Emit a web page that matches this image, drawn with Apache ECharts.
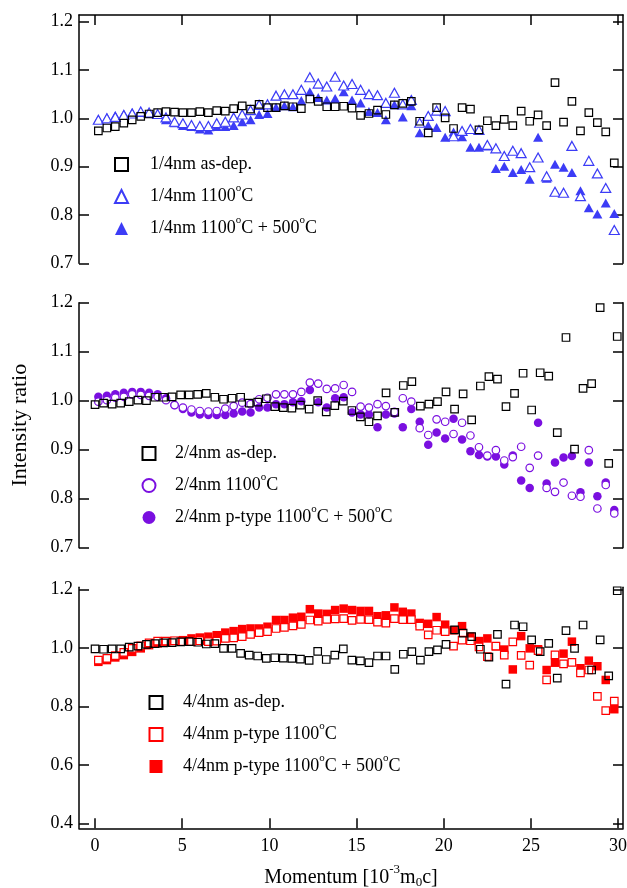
<!DOCTYPE html>
<html>
<head>
<meta charset="UTF-8">
<title>Intensity ratio</title>
<script src="https://cdn.jsdelivr.net/npm/echarts@6/dist/echarts.min.js"></script>
</head>
<body style="margin:0">
<div id="main" style="width:627px;height:888px;"></div>
<script type="text/javascript">
// momentum grids [10^-3 m0c]
var momentumA = [
  0.19, 0.68, 1.16, 1.65, 2.13, 2.62, 3.10, 3.59, 4.07, 4.56,
  5.04, 5.53, 6.01, 6.50, 6.98, 7.47, 7.95, 8.44, 8.92, 9.41,
  9.89, 10.38, 10.86, 11.35, 11.83, 12.32, 12.80, 13.29, 13.77, 14.26,
  14.74, 15.23, 15.71, 16.20, 16.68, 17.17, 17.65, 18.14, 18.62, 19.11,
  19.59, 20.08, 20.56, 21.05, 21.53, 22.02, 22.50, 22.99, 23.47, 23.96,
  24.44, 24.93, 25.41, 25.90, 26.38, 26.87, 27.35, 27.84, 28.32, 28.81,
  29.29, 29.78];
var momentumB = [
  0.00, 0.49, 0.98, 1.47, 1.96, 2.46, 2.95, 3.44, 3.93, 4.42,
  4.91, 5.40, 5.89, 6.38, 6.87, 7.37, 7.86, 8.35, 8.84, 9.33,
  9.82, 10.31, 10.80, 11.29, 11.78, 12.28, 12.77, 13.26, 13.75, 14.24,
  14.73, 15.22, 15.71, 16.20, 16.69, 17.19, 17.68, 18.17, 18.66, 19.15,
  19.64, 20.13, 20.62, 21.11, 21.60, 22.10, 22.59, 23.08, 23.57, 24.06,
  24.55, 25.04, 25.53, 26.02, 26.51, 27.01, 27.50, 27.99, 28.48, 28.97,
  29.46, 29.95];

// panel 1: 1/4nm
var p1AsDep = [
  0.974, 0.980, 0.983, 0.990, 0.997, 1.004, 1.009, 1.012, 1.014, 1.013,
  1.012, 1.012, 1.014, 1.012, 1.016, 1.015, 1.020, 1.026, 1.019, 1.029,
  1.022, 1.022, 1.026, 1.024, 1.020, 1.040, 1.035, 1.024, 1.024, 1.025,
  1.021, 1.006, 1.010, 1.017, 1.008, 1.028, 1.031, 1.035, 0.994, 0.970,
  1.022, 1.001, 0.979, 1.022, 1.019, 0.976, 0.995, 0.985, 0.998, 0.985,
  1.015, 0.994, 1.007, 0.985, 1.074, 0.992, 1.035, 0.974, 1.012, 0.991,
  0.972, 0.908];
var p1Ann = [
  0.997, 1.000, 1.003, 1.007, 1.010, 1.014, 1.012, 1.009, 1.002, 0.993,
  0.990, 0.986, 0.984, 0.984, 0.990, 0.993, 1.002, 1.008, 1.017, 1.028,
  1.029, 1.047, 1.050, 1.050, 1.059, 1.085, 1.072, 1.066, 1.086, 1.068,
  1.071, 1.059, 1.050, 1.048, 1.032, 1.053, 1.029, 1.038, 0.991, 1.005,
  1.016, 1.015, 0.963, 0.974, 0.978, 0.976, 0.945, 0.938, 0.922, 0.933,
  0.928, 0.899, 0.919, 0.880, 0.848, 0.846, 0.943, 0.839, 0.912, 0.886,
  0.856, 0.769];
var p1Ann500 = [
  0.998, 1.002, 1.006, 1.009, 1.012, 1.012, 1.010, 1.008, 0.997, 0.991,
  0.985, 0.983, 0.978, 0.976, 0.983, 0.983, 0.985, 0.993, 0.997, 1.008,
  1.010, 1.023, 1.026, 1.024, 1.037, 1.055, 1.043, 1.038, 1.041, 1.055,
  1.038, 1.032, 1.014, 1.012, 0.997, 1.028, 1.003, 1.026, 0.970, 0.985,
  0.981, 0.961, 0.972, 0.962, 0.940, 0.940, 0.943, 0.896, 0.901, 0.888,
  0.894, 0.874, 0.961, 0.876, 0.905, 0.899, 0.888, 0.850, 0.815, 0.802,
  0.825, 0.803];

// panel 2: 2/4nm
var p2AsDep = [
  0.992, 0.995, 0.993, 0.995, 0.998, 1.001, 1.000, 1.007, 1.007, 1.008,
  1.012, 1.012, 1.013, 1.015, 1.007, 1.003, 1.005, 1.007, 0.995, 0.997,
  1.004, 0.988, 0.986, 0.985, 0.991, 0.983, 1.000, 0.977, 0.990, 0.999,
  0.980, 0.967, 0.957, 0.969, 1.016, 0.976, 1.031, 1.039, 0.989, 0.993,
  0.998, 1.018, 0.983, 1.014, 0.961, 1.030, 1.049, 1.044, 0.988, 1.015,
  1.056, 0.981, 1.057, 1.050, 0.935, 1.129, 0.901, 1.025, 1.035, 1.190,
  0.872, 1.131];
var p2Ann = [
  0.998, 1.001, 1.006, 1.008, 1.013, 1.012, 1.010, 1.008, 1.001, 0.991,
  0.986, 0.982, 0.979, 0.978, 0.979, 0.984, 0.989, 0.996, 0.993, 1.003,
  1.006, 1.013, 1.013, 1.013, 1.018, 1.037, 1.035, 1.024, 1.025, 1.032,
  1.018, 0.988, 0.986, 0.993, 0.989, 0.977, 1.005, 0.998, 0.944, 0.930,
  0.962, 0.957, 0.932, 0.955, 0.929, 0.905, 0.888, 0.899, 0.878, 0.885,
  0.906, 0.863, 0.888, 0.822, 0.814, 0.833, 0.806, 0.804, 0.899, 0.780,
  0.828, 0.770];
var p2Ann500 = [
  1.008, 1.010, 1.013, 1.016, 1.018, 1.018, 1.016, 1.013, 1.005, 0.991,
  0.983, 0.976, 0.972, 0.971, 0.971, 0.971, 0.974, 0.978, 0.976, 0.986,
  0.986, 0.993, 0.993, 0.997, 0.999, 1.022, 0.997, 0.986, 1.005, 1.007,
  0.976, 0.972, 0.972, 0.946, 0.972, 0.974, 0.946, 0.983, 0.957, 0.910,
  0.935, 0.923, 0.963, 0.921, 0.897, 0.889, 0.886, 0.886, 0.870, 0.888,
  0.837, 0.822, 0.955, 0.831, 0.874, 0.884, 0.887, 0.813, 0.874, 0.805,
  0.833, 0.777];

// panel 3: 4/4nm
var p3AsDep = [
  0.996, 0.995, 0.996, 0.996, 1.002, 1.006, 1.012, 1.014, 1.017, 1.018,
  1.020, 1.021, 1.019, 1.013, 1.014, 0.998, 0.998, 0.981, 0.975, 0.972,
  0.964, 0.966, 0.965, 0.964, 0.961, 0.957, 0.988, 0.960, 0.975, 0.996,
  0.958, 0.955, 0.949, 0.972, 0.972, 0.926, 0.978, 0.987, 0.958, 0.987,
  0.993, 1.012, 1.061, 1.050, 1.038, 0.995, 0.968, 1.046, 0.876, 1.078,
  1.072, 1.027, 0.987, 1.015, 0.896, 1.059, 0.998, 1.078, 0.924, 1.027,
  0.904, 1.195];
var p3Ann = [
  0.958, 0.964, 0.973, 0.984, 0.998, 1.007, 1.017, 1.023, 1.023, 1.024,
  1.021, 1.021, 1.024, 1.021, 1.023, 1.032, 1.034, 1.038, 1.046, 1.052,
  1.055, 1.066, 1.070, 1.075, 1.080, 1.095, 1.091, 1.097, 1.099, 1.100,
  1.094, 1.097, 1.096, 1.088, 1.084, 1.100, 1.096, 1.096, 1.074, 1.044,
  1.060, 1.055, 1.006, 1.026, 1.024, 1.003, 0.970, 1.006, 0.975, 1.020,
  0.974, 0.941, 0.990, 0.890, 0.976, 0.945, 0.950, 0.914, 0.924, 0.834,
  0.785, 0.818];
var p3Ann500 = [
  0.952, 0.958, 0.967, 0.975, 0.986, 0.998, 1.009, 1.015, 1.021, 1.023,
  1.026, 1.032, 1.035, 1.038, 1.043, 1.052, 1.057, 1.064, 1.066, 1.066,
  1.072, 1.095, 1.095, 1.103, 1.106, 1.132, 1.117, 1.116, 1.129, 1.134,
  1.129, 1.126, 1.126, 1.108, 1.111, 1.138, 1.123, 1.117, 1.085, 1.082,
  1.105, 1.079, 1.060, 1.074, 1.038, 1.023, 1.032, 1.005, 0.994, 0.926,
  1.040, 0.998, 0.995, 0.924, 0.949, 0.980, 1.021, 0.930, 0.956, 0.937,
  0.890, 0.790];

var xTicks = [0, 5, 10, 15, 20, 25, 30];
var yTicksUpper = [0.7, 0.8, 0.9, 1.0, 1.1, 1.2];
var yTicksLower = [0.4, 0.6, 0.8, 1.0, 1.2];

var names1 = ['1/4nm as-dep.', '1/4nm 1100°C', '1/4nm 1100°C + 500°C'];
var names2 = ['2/4nm as-dep.', '2/4nm 1100°C', '2/4nm p-type 1100°C + 500°C'];
var names3 = ['4/4nm as-dep.', '4/4nm p-type 1100°C', '4/4nm p-type 1100°C + 500°C'];

var myChart = echarts.init(document.getElementById('main'));
var serif = 'Liberation Serif';
var axisColor = '#000';
var blue = '#3c3cf6';
var purple = '#7a0fe0';
var red = '#ff0000';

function pts(xs, ys) {
  return xs.map(function (x, i) { return [x, ys[i]]; });
}

function scatter(name, panel, symbol, size, xs, ys, color, filled, fill) {
  return {
    name: name,
    type: 'scatter',
    xAxisIndex: panel,
    yAxisIndex: panel * 2,
    symbol: symbol,
    symbolSize: size,
    symbolKeepAspect: true,
    silent: true,
    emphasis: { disabled: true },
    itemStyle: filled
      ? { color: color, borderWidth: 0, opacity: 1 }
      : { color: fill, borderColor: color, borderWidth: 1.2, opacity: 1 },
    data: pts(xs, ys)
  };
}

function supName(n) {
  return n.split('°').map(function (p) { return '{t|' + p + '}'; }).join('{s|o}');
}

// legend icon is 13px; the gap token pushes the text to the right,
// the trailing empty superscript keeps every row the same height
function legendAt(names, left, top, gap) {
  return {
    data: names,
    orient: 'vertical',
    left: left,
    top: top,
    padding: 0,
    itemWidth: 13,
    itemHeight: 13,
    itemGap: 5,
    selectedMode: false,
    formatter: function (n) { return '{g| }' + supName(n) + '{s| }'; },
    textStyle: {
      rich: {
        g: { width: gap, fontSize: 18, lineHeight: 27 },
        t: { fontFamily: serif, fontSize: 18, lineHeight: 27, color: '#000' },
        s: { fontFamily: serif, fontSize: 11, lineHeight: 11, padding: [0, 0, 16, 0], color: '#000' }
      }
    }
  };
}

var lineSt = { color: axisColor, width: 1.5 };

function xAxisFor(panel, pos, showLabels) {
  var ax = {
    type: 'value',
    gridIndex: panel,
    position: pos,
    min: -0.92,
    max: 30.28,
    axisLine: { show: true, onZero: false, lineStyle: lineSt },
    axisTick: { show: true, inside: true, length: 10, customValues: xTicks, lineStyle: lineSt },
    axisLabel: { show: showLabels, customValues: xTicks, margin: 9, fontFamily: serif, fontSize: 18, color: '#000' },
    splitLine: { show: false }
  };
  if (panel === 1) ax.show = false;
  return ax;
}

function yAxisFor(panel, pos, min, max, ticks, showLabels) {
  return {
    type: 'value',
    gridIndex: panel,
    position: pos,
    min: min,
    max: max,
    axisLine: { show: true, onZero: false, lineStyle: lineSt },
    axisTick: { show: true, inside: true, length: 10, customValues: ticks, lineStyle: lineSt },
    axisLabel: {
      show: showLabels, customValues: ticks, margin: 6,
      fontFamily: serif, fontSize: 18, color: '#000',
      formatter: function (v) { return v.toFixed(1); }
    },
    splitLine: { show: false }
  };
}

var yAxes = [
  yAxisFor(0, 'left', 0.7, 1.2139, yTicksUpper, true),
  yAxisFor(0, 'right', 0.7, 1.2139, yTicksUpper, false),
  yAxisFor(1, 'left', 0.7, 1.2, yTicksUpper, true),
  yAxisFor(1, 'right', 0.7, 1.2, yTicksUpper, false),
  yAxisFor(2, 'left', 0.3829, 1.2068, yTicksLower, true),
  yAxisFor(2, 'right', 0.3829, 1.2068, yTicksLower, false)
];
yAxes[2].name = 'Intensity ratio';
yAxes[2].nameLocation = 'middle';
yAxes[2].nameRotate = 90;
yAxes[2].nameGap = 47;
yAxes[2].nameTextStyle = { fontFamily: serif, fontSize: 22, lineHeight: 24, color: '#000' };

var xAxes = [xAxisFor(0, 'top', false), xAxisFor(1, 'bottom', false), xAxisFor(2, 'bottom', true)];
xAxes[2].name = '{t|Momentum [10}{s|-3}{t|m}{b|0}{t|c]}';
xAxes[2].nameLocation = 'middle';
xAxes[2].nameGap = 38;
xAxes[2].nameTextStyle = {
  rich: {
    t: { fontFamily: serif, fontSize: 20, lineHeight: 22, color: '#000' },
    s: { fontFamily: serif, fontSize: 13, lineHeight: 13, padding: [0, 0, 16, 0], color: '#000' },
    b: { fontFamily: serif, fontSize: 13, lineHeight: 13, padding: [10, 0, 0, 0], color: '#000' }
  }
};

var option = {
  animation: false,
  backgroundColor: '#fff',
  grid: [
    { left: 79, right: 4, top: 15, height: 248.3, outerBoundsMode: 'none' },
    { left: 79, right: 4, top: 302.7, height: 245, outerBoundsMode: 'none' },
    { left: 79, right: 4, top: 587.3, height: 241, outerBoundsMode: 'none' }
  ],
  xAxis: xAxes,
  yAxis: yAxes,
  legend: [
    legendAt(names1, 114, 151, 17),
    legendAt(names2, 141.5, 440, 14.5),
    legendAt(names3, 148.5, 689, 15.5)
  ],
  series: [
    scatter(names1[2], 0, 'triangle', [10, 9], momentumA, p1Ann500, blue, true),
    scatter(names1[1], 0, 'triangle', [10, 9], momentumA, p1Ann, blue, false, '#fff'),
    scatter(names1[0], 0, 'rect', 7.5, momentumA, p1AsDep, '#000', false, 'rgba(255,255,255,0)'),

    scatter(names2[2], 1, 'circle', 8.5, momentumA, p2Ann500, purple, true),
    scatter(names2[1], 1, 'circle', 7.5, momentumA, p2Ann, purple, false, '#fff'),
    scatter(names2[0], 1, 'rect', 7.5, momentumB, p2AsDep, '#000', false, 'rgba(255,255,255,0)'),

    scatter(names3[2], 2, 'rect', 8.5, momentumA, p3Ann500, red, true),
    scatter(names3[1], 2, 'rect', 7.5, momentumA, p3Ann, red, false, '#fff'),
    scatter(names3[0], 2, 'rect', 7.5, momentumB, p3AsDep, '#000', false, 'rgba(255,255,255,0)')
  ]
};
myChart.setOption(option);
</script>
</body>
</html>
